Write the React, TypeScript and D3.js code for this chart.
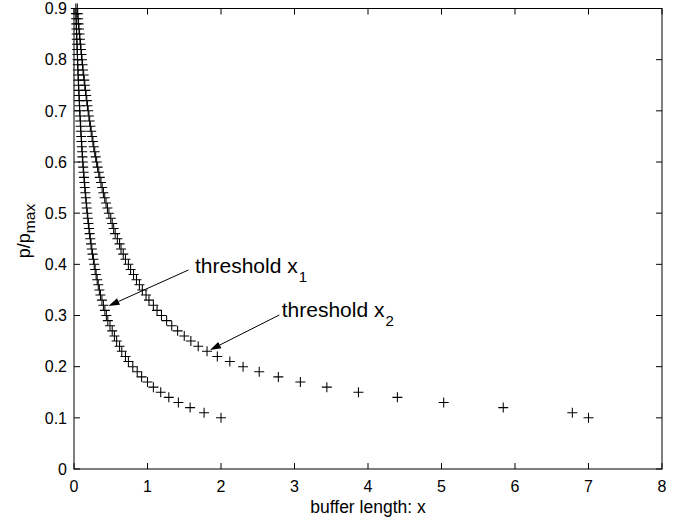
import React from "react";
import * as d3 from "d3";

const pValues = [
  0.10, 0.11, 0.12, 0.13, 0.14, 0.15, 0.16, 0.17, 0.18, 0.19,
  0.20, 0.21, 0.22, 0.23, 0.24, 0.25, 0.26, 0.27, 0.28, 0.29,
  0.30, 0.31, 0.32, 0.33, 0.34, 0.35, 0.36, 0.37, 0.38, 0.39,
  0.40, 0.41, 0.42, 0.43, 0.44, 0.45, 0.46, 0.47, 0.48, 0.49,
  0.50, 0.51, 0.52, 0.53, 0.54, 0.55, 0.56, 0.57, 0.58, 0.59,
  0.60, 0.61, 0.62, 0.63, 0.64, 0.65, 0.66, 0.67, 0.68, 0.69,
  0.70, 0.71, 0.72, 0.73, 0.74, 0.75, 0.76, 0.77, 0.78, 0.79,
  0.80, 0.81, 0.82, 0.83, 0.84, 0.85, 0.86, 0.87, 0.88, 0.89,
  0.90,
];

const series1X = [
  2.00, 1.77, 1.58, 1.42, 1.29, 1.18, 1.08, 1.00, 0.92, 0.86,
  0.80, 0.74, 0.70, 0.65, 0.62, 0.58, 0.55, 0.52, 0.49, 0.46,
  0.44, 0.42, 0.40, 0.38, 0.36, 0.345, 0.330, 0.315, 0.301, 0.288,
  0.275, 0.264, 0.252, 0.242, 0.232, 0.222, 0.213, 0.204, 0.196, 0.188,
  0.181, 0.173, 0.167, 0.160, 0.154, 0.147, 0.142, 0.136, 0.131, 0.125,
  0.120, 0.115, 0.111, 0.106, 0.102, 0.098, 0.093, 0.090, 0.086, 0.082,
  0.078, 0.075, 0.072, 0.068, 0.065, 0.062, 0.059, 0.056, 0.053, 0.051,
  0.048, 0.046, 0.043, 0.041, 0.038, 0.036, 0.033, 0.031, 0.029, 0.027,
  0.025,
];

const series2X = [
  7.00, 6.78, 5.84, 5.03, 4.40, 3.87, 3.44, 3.08, 2.78, 2.52,
  2.30, 2.12, 1.95, 1.81, 1.69, 1.59, 1.50, 1.41, 1.33, 1.26,
  1.19, 1.13, 1.08, 1.02, 0.98, 0.93, 0.89, 0.85, 0.81, 0.77,
  0.74, 0.70, 0.67, 0.64, 0.62, 0.59, 0.56, 0.54, 0.52, 0.50,
  0.475, 0.455, 0.436, 0.418, 0.400, 0.383, 0.367, 0.351, 0.337, 0.322,
  0.308, 0.295, 0.282, 0.269, 0.257, 0.246, 0.234, 0.223, 0.213, 0.203,
  0.193, 0.183, 0.174, 0.165, 0.156, 0.147, 0.139, 0.131, 0.123, 0.116,
  0.109, 0.102, 0.095, 0.088, 0.081, 0.075, 0.068, 0.062, 0.056, 0.051,
  0.045,
];

const xTicks = [0, 1, 2, 3, 4, 5, 6, 7, 8];
const yTicks = [0, 0.1, 0.2, 0.3, 0.4, 0.5, 0.6, 0.7, 0.8, 0.9];
const yTickLabels = ["0", "0.1", "0.2", "0.3", "0.4", "0.5", "0.6", "0.7", "0.8", "0.9"];

const annotations = [
  { text: "threshold x", sub: "1", textX: 1.646, textY: 0.3825, fromX: 1.558, fromY: 0.389, toX: 0.469, toY: 0.3186 },
  { text: "threshold x", sub: "2", textX: 2.826, textY: 0.2965, fromX: 2.793, fromY: 0.301, toX: 1.85, toY: 0.2326 },
];

const W = 689;
const H = 523;
const FONT = "'Liberation Sans', Arial, Helvetica, sans-serif";

export default function App() {
  const x = d3.scaleLinear().domain([0, 8]).range([74, 662]);
  const y = d3.scaleLinear().domain([0, 0.9]).range([469, 8.5]);
  const [x0, x1] = x.range();
  const [y0, y1] = y.range();
  const tickLen = 6;
  const plus = "M-5,0H5M0,-5V5";

  const allSeries = [series1X, series2X];

  return (
    <svg
      width={W}
      height={H}
      style={{ position: "absolute", left: 0, top: 0, background: "#fff" }}
      fontFamily={FONT}
    >
      <rect x={0} y={0} width={W} height={H} fill="#fff" />
      <g stroke="#000" strokeWidth={1.05} fill="none">
        {allSeries.map((xs, si) =>
          xs.map((xv, i) => (
            <path key={`${si}-${i}`} d={plus} transform={`translate(${x(xv)},${y(pValues[i])})`} />
          ))
        )}
      </g>
      <rect x={x0} y={y1} width={x1 - x0} height={y0 - y1} fill="none" stroke="#000" strokeWidth={1} />
      <g stroke="#000" strokeWidth={1}>
        {xTicks.map((t) => (
          <g key={`xt${t}`}>
            <line x1={x(t)} x2={x(t)} y1={y0} y2={y0 - tickLen} />
            <line x1={x(t)} x2={x(t)} y1={y1} y2={y1 + tickLen} />
          </g>
        ))}
        {yTicks.map((t) => (
          <g key={`yt${t}`}>
            <line x1={x0} x2={x0 + tickLen} y1={y(t)} y2={y(t)} />
            <line x1={x1} x2={x1 - tickLen} y1={y(t)} y2={y(t)} />
          </g>
        ))}
      </g>
      <g fontSize={16} fill="#000">
        {xTicks.map((t) => (
          <text key={`xl${t}`} x={x(t)} y={492} textAnchor="middle">
            {String(t)}
          </text>
        ))}
        {yTicks.map((t, i) => (
          <text key={`yl${t}`} x={67} y={y(t)} dy="0.36em" textAnchor="end">
            {yTickLabels[i]}
          </text>
        ))}
      </g>
      <text x={(x0 + x1) / 2} y={513} textAnchor="middle" fontSize={17.5}>
        buffer length: x
      </text>
      <text transform={`translate(30,${231}) rotate(-90)`} textAnchor="middle" fontSize={18}>
        p/p
        <tspan fontSize={15.5} dy={5}>max</tspan>
      </text>
      {annotations.map((a, i) => {
        const fx = x(a.fromX), fy = y(a.fromY), tx = x(a.toX), ty = y(a.toY);
        const ang = Math.atan2(ty - fy, tx - fx);
        const L = 11, hw = 3.5;
        const bx = tx - L * Math.cos(ang), by = ty - L * Math.sin(ang);
        const px = -Math.sin(ang) * hw, py = Math.cos(ang) * hw;
        return (
          <g key={`an${i}`}>
            <line x1={fx} y1={fy} x2={bx} y2={by} stroke="#000" strokeWidth={1} />
            <polygon points={`${tx},${ty} ${bx + px},${by + py} ${bx - px},${by - py}`} fill="#000" />
            <text x={x(a.textX)} y={y(a.textY)} fontSize={21}>
              {a.text}
              <tspan fontSize={15} dx={1} dy={9}>{a.sub}</tspan>
            </text>
          </g>
        );
      })}
    </svg>
  );
}
